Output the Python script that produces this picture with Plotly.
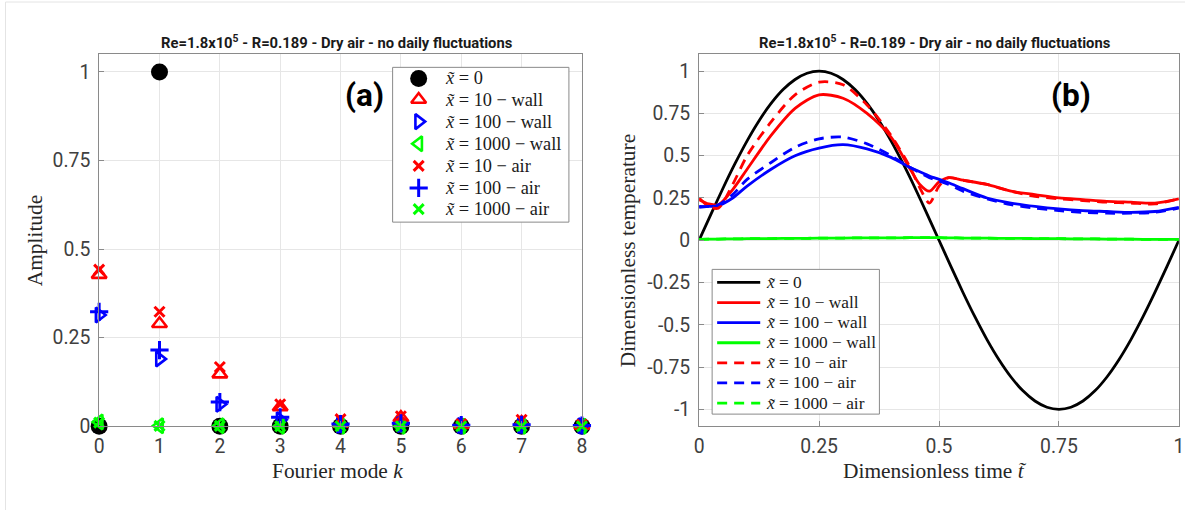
import plotly.graph_objects as go

W, H = 1190, 522

# ---------------- data: Fourier amplitudes (panel a) ----------------
modes = [0, 1, 2, 3, 4, 5, 6, 7, 8]
amp_x0 = [0.0, 1.0, 0.0, 0.0, 0.0, 0.0, 0.0, 0.0, 0.0]
amp_10_wall = [0.428, 0.289, 0.147, 0.054, 0.008, 0.024, 0.004, 0.010, 0.002]
amp_100_wall = [0.314, 0.190, 0.062, 0.018, 0.003, 0.005, 0.002, 0.002, 0.001]
amp_1000_wall = [0.012, 0.001, 0.001, 0.0, 0.0, 0.0, 0.0, 0.0, 0.0]
amp_10_air = [0.442, 0.323, 0.167, 0.062, 0.020, 0.028, 0.006, 0.018, 0.004]
amp_100_air = [0.323, 0.215, 0.068, 0.025, 0.006, 0.008, 0.003, 0.004, 0.002]
amp_1000_air = [0.010, 0.001, 0.001, 0.0, 0.0, 0.0, 0.0, 0.0, 0.0]

# ---------------- data: temperature over one period (panel b) ----------------
t_black = [0, 0.025, 0.05, 0.075, 0.1, 0.125, 0.15, 0.175, 0.2, 0.225, 0.25,
           0.275, 0.3, 0.325, 0.35, 0.375, 0.4, 0.425, 0.45, 0.475, 0.5,
           0.525, 0.55, 0.575, 0.6, 0.625, 0.65, 0.675, 0.7, 0.725, 0.75,
           0.775, 0.8, 0.825, 0.85, 0.875, 0.9, 0.925, 0.95, 0.975, 1.0]
T_x0 = [0.0, 0.156, 0.309, 0.454, 0.588, 0.707, 0.809, 0.891, 0.951, 0.988, 1.0,
        0.988, 0.951, 0.891, 0.809, 0.707, 0.588, 0.454, 0.309, 0.156, 0.0,
        -0.156, -0.309, -0.454, -0.588, -0.707, -0.809, -0.891, -0.951, -0.988, -1.0,
        -0.988, -0.951, -0.891, -0.809, -0.707, -0.588, -0.454, -0.309, -0.156, 0.0]

t_grid = [0, 0.02, 0.04, 0.07, 0.1, 0.15, 0.2, 0.25, 0.3, 0.35, 0.4, 0.44,
          0.46, 0.48, 0.5, 0.52, 0.55, 0.6, 0.65, 0.7, 0.75, 0.8, 0.85, 0.9,
          0.95, 1.0]
T_10_wall = [0.24, 0.215, 0.21, 0.30, 0.42, 0.62, 0.78, 0.86, 0.84, 0.75,
             0.61, 0.42, 0.33, 0.29, 0.345, 0.37, 0.355, 0.33, 0.29, 0.27,
             0.25, 0.24, 0.23, 0.225, 0.22, 0.245]
T_100_wall = [0.195, 0.20, 0.205, 0.25, 0.32, 0.42, 0.50, 0.545, 0.565,
              0.54, 0.49, 0.43, 0.405, 0.38, 0.36, 0.34, 0.305, 0.25, 0.22,
              0.20, 0.185, 0.175, 0.17, 0.165, 0.17, 0.195]
T_1000_wall = [0.005, 0.006, 0.007, 0.008, 0.009, 0.010, 0.011, 0.012,
               0.013, 0.014, 0.014, 0.015, 0.015, 0.015, 0.015, 0.014,
               0.013, 0.012, 0.011, 0.010, 0.009, 0.008, 0.007, 0.006,
               0.005, 0.005]
T_10_air = [0.25, 0.20, 0.19, 0.33, 0.50, 0.70, 0.86, 0.935, 0.92, 0.80,
            0.62, 0.43, 0.31, 0.22, 0.32, 0.37, 0.355, 0.33, 0.29, 0.26,
            0.245, 0.235, 0.225, 0.22, 0.215, 0.245]
T_100_air = [0.20, 0.20, 0.21, 0.27, 0.36, 0.46, 0.55, 0.60, 0.61, 0.57,
             0.50, 0.43, 0.40, 0.37, 0.35, 0.33, 0.29, 0.245, 0.21, 0.19,
             0.175, 0.165, 0.16, 0.16, 0.165, 0.19]
T_1000_air = [0.005, 0.006, 0.007, 0.008, 0.009, 0.010, 0.011, 0.012,
              0.013, 0.014, 0.014, 0.015, 0.015, 0.015, 0.015, 0.014,
              0.013, 0.012, 0.011, 0.010, 0.009, 0.008, 0.007, 0.006,
              0.005, 0.005]

labels = ["<i>x̃</i> = 0", "<i>x̃</i> = 10 − wall", "<i>x̃</i> = 100 − wall",
          "<i>x̃</i> = 1000 − wall", "<i>x̃</i> = 10 − air",
          "<i>x̃</i> = 100 − air", "<i>x̃</i> = 1000 − air"]

RED, BLUE, GREEN, BLACK = "#ff0000", "#0000ff", "#00ff00", "#000000"
SERIF = "Liberation Serif"
SANS = "Roboto"
FRAME = "#8a8a8a"

# page placement: layout positions below are given in final page pixels
OX, SX, SY = 6.0, 0.99, 0.972


def px_x(p):
    return ((p - OX) / SX) / W


def px_y(p):
    return 1 - (p / SY) / H


def fs(s):
    return s / ((SX + SY) / 2)


fig = go.Figure()

# ---------- panel (a): markers ----------
marker_specs = [
    dict(symbol="circle", size=17, color=BLACK),
    dict(symbol="triangle-up-open", size=13, color=RED, line=dict(width=2.6, color=RED)),
    dict(symbol="triangle-right-open", size=13, color=BLUE, line=dict(width=2.6, color=BLUE)),
    dict(symbol="triangle-left-open", size=13, color=GREEN, line=dict(width=2.6, color=GREEN)),
    dict(symbol="x-thin", size=10, color=RED, line=dict(width=3, color=RED)),
    dict(symbol="cross-thin", size=13, color=BLUE, line=dict(width=3, color=BLUE)),
    dict(symbol="x-thin", size=10, color=GREEN, line=dict(width=3, color=GREEN)),
]
amp_series = [amp_x0, amp_10_wall, amp_100_wall, amp_1000_wall,
              amp_10_air, amp_100_air, amp_1000_air]
for vals, mk, name in zip(amp_series, marker_specs, labels):
    fig.add_trace(go.Scatter(x=modes, y=vals, mode="markers", marker=mk, name=name,
                             xaxis="x", yaxis="y", showlegend=False, cliponaxis=False))

# ---------- panel (b): lines ----------
DASH = "10px,7px"
line_specs = [
    (t_black, T_x0, BLACK, "solid"),
    (t_grid, T_10_wall, RED, "solid"),
    (t_grid, T_100_wall, BLUE, "solid"),
    (t_grid, T_1000_wall, GREEN, "solid"),
    (t_grid, T_10_air, RED, DASH),
    (t_grid, T_100_air, BLUE, DASH),
    (t_grid, T_1000_air, GREEN, DASH),
]
for (tt, vv, col, dash), name in zip(line_specs, labels):
    fig.add_trace(go.Scatter(x=tt, y=vv, mode="lines", name=name,
                             line=dict(color=col, width=2.8, dash=dash, shape="spline", smoothing=0.8),
                             xaxis="x2", yaxis="y2", showlegend=False))

# ---------- legends, drawn on a full-page pixel overlay ----------
def legend_box(x0, y0, x1, y1):
    fig.add_trace(go.Scatter(x=[x0, x1, x1, x0, x0], y=[y0, y0, y1, y1, y0],
                             mode="lines", fill="toself", fillcolor="white",
                             line=dict(color=FRAME, width=1), hoverinfo="skip",
                             xaxis="x3", yaxis="y3", showlegend=False))


legend_annotations = []

# legend of panel (a)
legend_box(393, 67, 569, 221)
rows_a = [78, 99, 121, 143, 165, 187, 208]
for yy, mk, name in zip(rows_a, marker_specs, labels):
    fig.add_trace(go.Scatter(x=[419], y=[yy], mode="markers", marker=mk, hoverinfo="skip",
                             xaxis="x3", yaxis="y3", showlegend=False))
    legend_annotations.append(dict(x=px_x(443), y=px_y(yy), text=name, xanchor="left",
                                   font=dict(family=SERIF, size=fs(18), color="#1a1a1a")))

# legend of panel (b)
legend_box(712, 268, 879, 412)
rows_b = [281, 301, 321, 341, 361, 381, 401]
for yy, (_, _, col, dash), name in zip(rows_b, line_specs, labels):
    fig.add_trace(go.Scatter(x=[717, 760], y=[yy, yy], mode="lines", hoverinfo="skip",
                             line=dict(color=col, width=2.8, dash=dash),
                             xaxis="x3", yaxis="y3", showlegend=False))
    legend_annotations.append(dict(x=px_x(764), y=px_y(yy), text=name, xanchor="left",
                                   font=dict(family=SERIF, size=fs(17), color="#1a1a1a")))

axis_common = dict(showline=True, mirror=True, linecolor=FRAME, linewidth=1,
                   showgrid=True, gridcolor="#e6e6e6", gridwidth=1,
                   ticks="inside", ticklen=5, tickcolor=FRAME,
                   tickfont=dict(family=SANS, size=fs(19), color="#404040"),
                   zeroline=False)
xstand = dict(ticklabelstandoff=3)
ystand = dict(ticklabelstandoff=4)

ydom = [px_y(424), px_y(54)]
fig.update_layout(
    width=W, height=H, margin=dict(l=0, r=0, t=0, b=0),
    paper_bgcolor="white", plot_bgcolor="rgba(0,0,0,0)",
    xaxis=dict(domain=[px_x(100), px_x(582)], range=[0, 8], tickvals=modes,
               anchor="y", **axis_common, **xstand),
    yaxis=dict(domain=ydom, range=[0, 1.05], tickvals=[0, 0.25, 0.5, 0.75, 1],
               ticktext=["0", "0.25", "0.5", "0.75", "1"], anchor="x", **axis_common, **ystand),
    xaxis2=dict(domain=[px_x(699), px_x(1178)], range=[0, 1],
                tickvals=[0, 0.25, 0.5, 0.75, 1], ticktext=["0", "0.25", "0.5", "0.75", "1"],
                anchor="y2", **axis_common, **xstand),
    yaxis2=dict(domain=ydom, range=[-1.1, 1.1],
                tickvals=[-1, -0.75, -0.5, -0.25, 0, 0.25, 0.5, 0.75, 1],
                ticktext=["-1", "-0.75", "-0.5", "-0.25", "0", "0.25", "0.5", "0.75", "1"],
                anchor="x2", **axis_common, **ystand),
    # overlay spanning the page, ranged in page pixels
    xaxis3=dict(domain=[0, 1], range=[OX, OX + SX * W], visible=False, anchor="y3", fixedrange=True),
    yaxis3=dict(domain=[0, 1], range=[SY * H, 0], visible=False, anchor="x3", fixedrange=True),
    showlegend=False,
)

title_txt = "Re=1.8x10<sup>5</sup> - R=0.189 - Dry air - no daily fluctuations"
annotations = [
    dict(x=px_x(337), y=px_y(42), text="<b>" + title_txt + "</b>"),
    dict(x=px_x(935), y=px_y(42), text="<b>" + title_txt + "</b>"),
]
for a in annotations:
    a.update(font=dict(family="Roboto", size=fs(14.5), color="#1a1a1a"))

axis_titles = [
    dict(x=px_x(338), y=px_y(469), text="Fourier mode <i>k</i>", textangle=0),
    dict(x=px_x(935), y=px_y(469), text="Dimensionless time <i>t̃</i>", textangle=0),
    dict(x=px_x(36), y=px_y(239), text="Amplitude", textangle=-90),
    dict(x=px_x(628), y=px_y(250), text="Dimensionless temperature", textangle=-90),
]
for a in axis_titles:
    a.update(font=dict(family=SERIF, size=fs(21), color="#262626"))

panel_tags = [
    dict(x=px_x(365), y=px_y(95), text="<b>(a)</b>"),
    dict(x=px_x(1070), y=px_y(95), text="<b>(b)</b>"),
]
for a in panel_tags:
    a.update(font=dict(family="Roboto", size=fs(31), color="#000000"))

all_ann = annotations + axis_titles + panel_tags + legend_annotations
for a in all_ann:
    a.setdefault("xanchor", "center")
    a.update(xref="paper", yref="paper", showarrow=False, yanchor="middle")
fig.update_layout(annotations=all_ann)

# faint outer frame lines (top and left)
fig.add_shape(type="line", xref="paper", yref="paper", x0=px_x(6.5), x1=1, y0=px_y(2), y1=px_y(2),
              line=dict(color="#e4e4e4", width=1))
fig.add_shape(type="line", xref="paper", yref="paper", x0=px_x(6.5), x1=px_x(6.5), y0=0, y1=px_y(2),
              line=dict(color="#e4e4e4", width=1))

fig.write_html("out.html")
